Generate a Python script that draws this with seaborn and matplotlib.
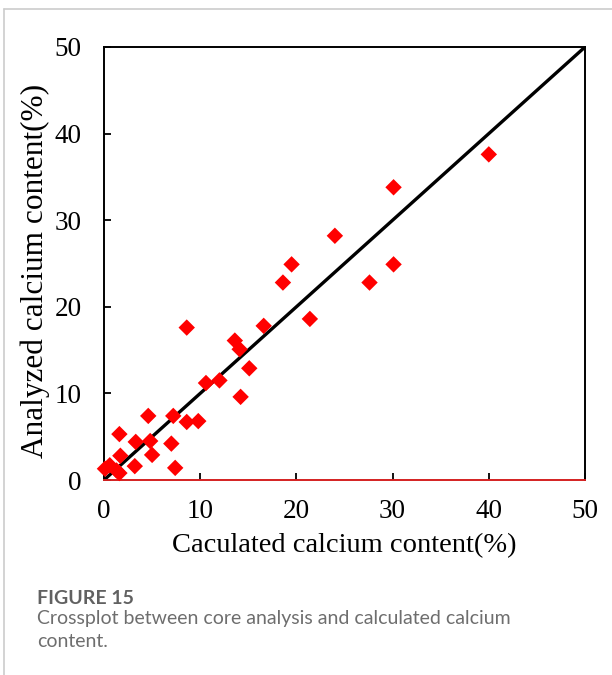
import matplotlib
matplotlib.use("Agg")
import matplotlib.pyplot as plt
from matplotlib.lines import Line2D
import seaborn as sns
import pandas as pd

# ---- data ----
calculated = [40.0, 30.1, 30.1, 27.6, 24.0, 19.5, 18.6, 21.4, 16.6, 8.6,
              13.6, 14.1, 15.1, 12.0, 10.6, 14.2, 4.6, 7.2, 8.6, 9.8,
              1.6, 3.3, 4.8, 7.0, 1.7, 5.0, 3.2, 7.4, 0.1, 0.6, 1.3, 1.6]
analyzed = [37.6, 33.8, 24.9, 22.8, 28.2, 24.9, 22.8, 18.6, 17.8, 17.6,
            16.1, 15.1, 12.9, 11.5, 11.2, 9.6, 7.4, 7.4, 6.7, 6.8,
            5.3, 4.4, 4.5, 4.2, 2.8, 2.9, 1.6, 1.4, 1.3, 1.7, 1.1, 0.8]
line_x = [0, 50]
line_y = [0, 50]
ticks = [0, 10, 20, 30, 40, 50]
xlabel = "Caculated calcium content(%)"
ylabel = "Analyzed calcium content(%)"
caption_title = "FIGURE 15"
caption_text = "Crossplot between core analysis and calculated calcium\ncontent."

df = pd.DataFrame({"calc": calculated, "anal": analyzed})
ldf = pd.DataFrame({"x": line_x, "y": line_y})

sns.set_style("white")
plt.rcParams["font.family"] = ["Liberation Serif", "DejaVu Serif"]

fig = plt.figure(figsize=(6.12, 6.75), dpi=100)
ax = fig.add_axes([104 / 612, 1 - 480 / 675, (585 - 104) / 612, (480 - 47) / 675])

sns.scatterplot(data=df, x="calc", y="anal", marker="D", color="#ff0000",
                edgecolor="none", s=70, ax=ax, zorder=3, clip_on=False)
sns.lineplot(data=ldf, x="x", y="y", color="black", linewidth=2.4, ax=ax,
             zorder=2)

ax.set_xlim(0, 50)
ax.set_ylim(0, 50)
ax.set_xticks(ticks)
ax.set_yticks(ticks)
ax.set_xticklabels([str(t) for t in ticks])
ax.set_yticklabels([str(t) for t in ticks])
ax.tick_params(axis="both", direction="in", length=5, width=1.3,
               labelsize=19.5, colors="black", left=True, bottom=True)
ax.tick_params(axis="x", pad=14)
ax.tick_params(axis="y", pad=16)
for side in ["left", "top", "right"]:
    ax.spines[side].set_color("black")
    ax.spines[side].set_linewidth(1.4)
ax.spines["bottom"].set_color("#d42020")
ax.spines["bottom"].set_linewidth(1.4)

ax.set_xlabel(xlabel, fontsize=20.5, labelpad=6, color="black")
ax.set_ylabel(ylabel, fontsize=22.5, color="black")
ax.yaxis.set_label_coords(-0.112, 0.483)

# figure frame (light grey border of the article panel)
fig.add_artist(Line2D([4 / 612, 4 / 612], [0, 1 - 9 / 675], transform=fig.transFigure,
                      color="#cccccc", linewidth=1.2))
fig.add_artist(Line2D([4 / 612, 1], [1 - 9 / 675, 1 - 9 / 675], transform=fig.transFigure,
                      color="#cccccc", linewidth=1.2))

fig.text(37 / 612, 1 - 598 / 675, caption_title, fontsize=14, fontweight="bold",
         color="#616161", family=["Lato", "DejaVu Sans"], va="center", ha="left")
fig.text(37 / 612, 1 - 610 / 675, caption_text, fontsize=14, color="#6e6e6e",
         family=["Lato", "DejaVu Sans"], va="top", ha="left", linespacing=1.45)

fig.savefig("out.png", dpi=100, facecolor="white")
